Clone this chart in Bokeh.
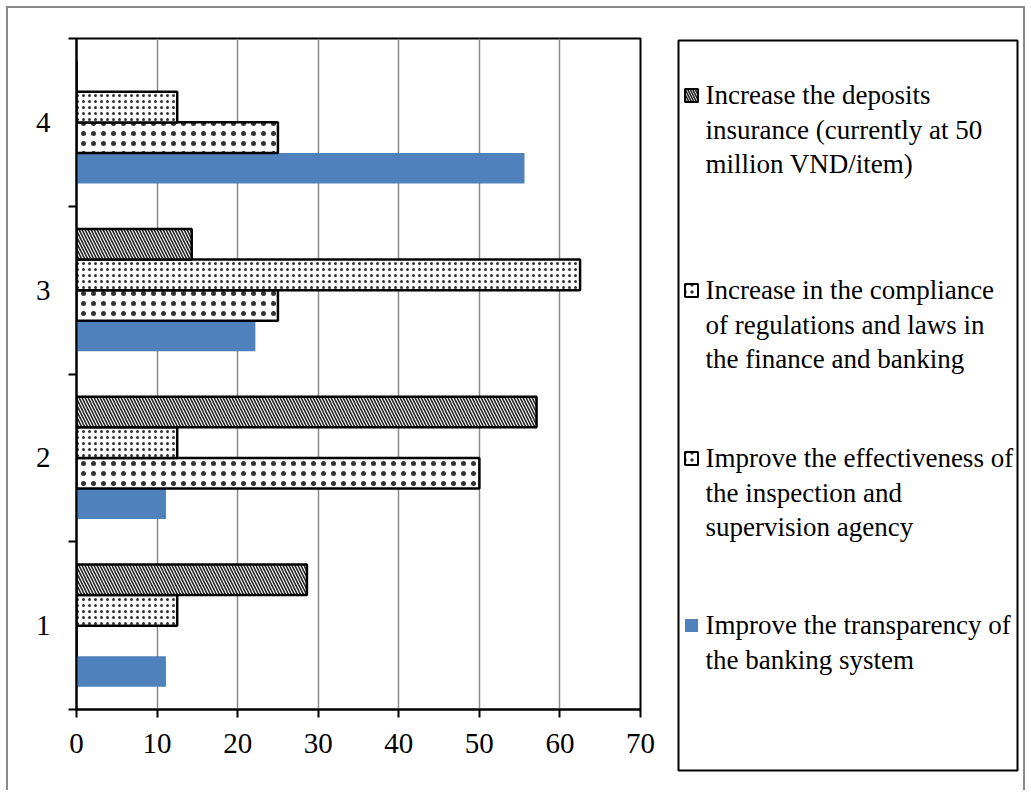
from bokeh.plotting import figure
from bokeh.layouts import row
from bokeh.models import ColumnDataSource, FixedTicker, Range1d
from bokeh.core.properties import value
from bokeh.transform import dodge
from bokeh.embed import file_html
from bokeh.resources import INLINE

# ---- data ----
categories = [1, 2, 3, 4]
transparency = [11.1, 11.1, 22.2, 55.6]
effectiveness = [0, 50, 25, 25]
compliance = [12.5, 12.5, 62.5, 12.5]
deposits = [28.6, 57.1, 14.3, 0]
x_ticks = [0, 10, 20, 30, 40, 50, 60, 70]
legend_labels = [
    "Increase the deposits\ninsurance (currently at 50\nmillion VND/item)",
    "Increase in the compliance\nof regulations and laws in\nthe finance and banking",
    "Improve the effectiveness of\nthe inspection and\nsupervision agency",
    "Improve the transparency of\nthe banking system",
]

FONT = "Liberation Serif"
TICK_FS = "29px"
LEG_FS = "27px"

# ---- styles ----
BLUE = "#4F81BD"
DEP_STYLE = dict(fill_color="white", line_color="black", line_width=2.5,
                 hatch_pattern="left_diagonal_line", hatch_scale=6, hatch_weight=1.6,
                 hatch_color="#222222")
COMP_STYLE = dict(fill_color="white", line_color="black", line_width=2.5,
                  hatch_pattern="dot", hatch_scale=6, hatch_weight=1.4,
                  hatch_color="#333333")
EFF_STYLE = dict(fill_color="white", line_color="black", line_width=2.5,
                 hatch_pattern="dot", hatch_scale=10, hatch_weight=1.3,
                 hatch_color="#333333")
TRANS_STYLE = dict(fill_color=BLUE, line_color=None)

src = ColumnDataSource(dict(cat=categories, transparency=transparency,
                            effectiveness=effectiveness, compliance=compliance,
                            deposits=deposits))

CANVAS_H = 782

# ---- chart ----
p = figure(width=652, height=CANVAS_H, output_backend="svg", toolbar_location=None,
           x_range=Range1d(0, 70), y_range=Range1d(0.5, 4.5),
           min_border_left=68, min_border_top=30, min_border_bottom=81,
           min_border_right=20)
p.frame_align = False
p.background_fill_color = "white"
p.border_fill_color = "white"
p.outline_line_color = "black"
p.outline_line_width = 2

H = 0.182
p.hbar(y=dodge("cat", -1.5 * H, range=p.y_range), left=0, right="transparency",
       height=H, source=src, **TRANS_STYLE)
p.hbar(y=dodge("cat", -0.5 * H, range=p.y_range), left=0, right="effectiveness",
       height=H, source=src, **EFF_STYLE)
p.hbar(y=dodge("cat", 0.5 * H, range=p.y_range), left=0, right="compliance",
       height=H, source=src, **COMP_STYLE)
p.hbar(y=dodge("cat", 1.5 * H, range=p.y_range), left=0, right="deposits",
       height=H, source=src, **DEP_STYLE)

p.ygrid.visible = False
p.xgrid.ticker = FixedTicker(ticks=x_ticks)
p.xgrid.grid_line_color = "#8a8a8a"
p.xgrid.grid_line_width = 1.5

xa = p.xaxis[0]
xa.ticker = FixedTicker(ticks=x_ticks)
xa.axis_line_width = 2
xa.major_tick_line_width = 2
xa.major_tick_out = 8
xa.major_tick_in = 0
xa.minor_tick_line_color = None
xa.major_label_text_font = FONT
xa.major_label_text_font_size = TICK_FS
xa.major_label_text_color = "black"
xa.major_label_standoff = 16

ya = p.yaxis[0]
ya.ticker = FixedTicker(ticks=categories, minor_ticks=[0.5, 1.5, 2.5, 3.5, 4.5])
ya.axis_line_width = 2
ya.major_tick_line_color = None
ya.major_tick_out = 0
ya.major_tick_in = 0
ya.minor_tick_line_color = "black"
ya.minor_tick_line_width = 2
ya.minor_tick_out = 8
ya.minor_tick_in = 0
ya.major_label_text_font = FONT
ya.major_label_text_font_size = TICK_FS
ya.major_label_text_color = "black"
ya.major_label_standoff = 18

# ---- legend panel (its frame is the legend box) ----
LW, LH = 339, 730
lg = figure(width=363, height=CANVAS_H, output_backend="svg", toolbar_location=None,
            x_range=Range1d(0, LW), y_range=Range1d(0, LH),
            x_axis_location=None, y_axis_location=None,
            min_border_left=18, min_border_right=6, min_border_top=32,
            min_border_bottom=20)
lg.frame_align = False
lg.grid.visible = False
lg.background_fill_color = "white"
lg.border_fill_color = "white"
lg.outline_line_color = "black"
lg.outline_line_width = 2

item_y = [675, 480, 312, 145]
sw_x = 13
styles = [DEP_STYLE, COMP_STYLE, EFF_STYLE, TRANS_STYLE]
for yy, st in zip(item_y, styles):
    s = dict(st)
    if s.get("line_color"):
        s["line_width"] = 2
    if s.get("hatch_pattern") == "dot":
        s["hatch_scale"] = 7
    if s.get("hatch_pattern") == "left_diagonal_line":
        s["hatch_scale"] = 5
    lg.rect(x=[sw_x], y=[yy], width=13, height=13, **s)

lg.text(x=[27] * 4, y=[yy + 15.5 for yy in item_y], text=legend_labels,
        text_font=value(FONT), text_font_size=LEG_FS, text_color="black",
        text_baseline="top", text_align="left", text_line_height=1.15)

layout = row(p, lg, spacing=0)
layout.styles = {"margin-left": "6px", "margin-top": "6px",
                 "border-left": "2px solid #8a8a8a", "border-top": "2px solid #8a8a8a",
                 "border-right": "2px solid #8a8a8a", "width": "fit-content"}

open("out.html", "w").write(file_html(layout, INLINE))
